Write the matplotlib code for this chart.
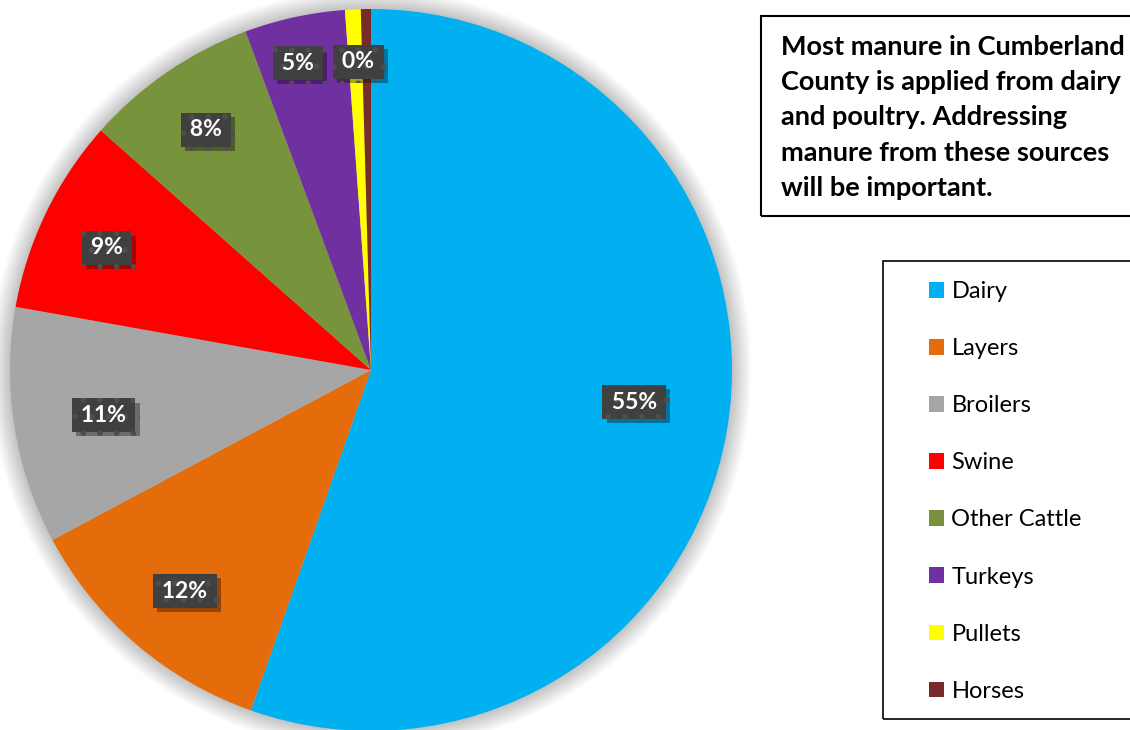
import matplotlib
matplotlib.use("Agg")
import matplotlib.pyplot as plt
import matplotlib.patches as mpatches
import matplotlib.patheffects as pe
import numpy as np

categories = ["Dairy", "Layers", "Broilers", "Swine", "Other Cattle", "Turkeys", "Pullets", "Horses"]
values = [55.4, 11.8, 10.6, 8.75, 7.8, 4.5, 0.7, 0.45]
labels = ["55%", "12%", "11%", "9%", "8%", "5%", "0%", None]
colors = ["#00B0F0", "#E46C0A", "#A6A6A6", "#FF0000", "#77933C", "#7030A0", "#FFFF00", "#772C2A"]
note = ("Most manure in Cumberland\nCounty is applied from dairy\nand poultry. Addressing\n"
        "manure from these sources\nwill be important.")

# layout params (label radial distances as fraction of radius, pixel nudges)
label_dist = [0.74, 0.80, 0.75, 0.81, 0.81, 0.875, 0.86]
label_nudge = [(0, 13), (2, -2), (0, -3), (-1, -5), (0, -1), (-6, -2), (3, -2)]

W, H = 1130, 730
fig = plt.figure(figsize=(W / 100, H / 100), dpi=100)
ax = fig.add_axes([0, 0, 1, 1])
R = 361.0
cx, cy = 371.0, 370.0
xlim = (-cx / R, (W - cx) / R)
ylim = ((cy - H) / R, cy / R)
ax.axis("off")

# soft shadow glow
n = 30
for i in range(n):
    r = 1.0 + 0.055 * (n - i) / n
    ax.add_patch(mpatches.Circle((0, 0), r, color="black", alpha=0.008, lw=0, zorder=0))

wedges, _ = ax.pie(values, colors=colors, startangle=90, counterclock=False,
                   radius=1.0, center=(0, 0), frame=False,
                   wedgeprops=dict(linewidth=0, zorder=2))
ax.set_xlim(*xlim)
ax.set_ylim(*ylim)
ax.set_aspect("auto")

plt.rcParams["hatch.linewidth"] = 1.6
font = "Lato"
total = sum(values)
start = 90.0
for i, v in enumerate(values):
    ang = v / total * 360
    mid = np.deg2rad(start - ang / 2)
    start -= ang
    if labels[i] is None:
        continue
    d = label_dist[i]
    x = d * np.cos(mid) + label_nudge[i][0] / R
    y = d * np.sin(mid) + label_nudge[i][1] / R
    t = ax.text(x, y, "\u2009" + labels[i] + "\u2009", ha="center", va="center",
                fontsize=16.5, fontweight="bold", family=font, color="white",
                bbox=dict(boxstyle="square,pad=0.28", facecolor="#404040",
                          edgecolor="#4e4e4e", hatch=".", lw=0),
                zorder=5)
    t.get_bbox_patch().set_path_effects(
        [pe.SimplePatchShadow(offset=(3, -3), shadow_rgbFace="black", alpha=0.35), pe.Normal()])

# note box
fig.patches.append(mpatches.Rectangle((761 / W, 1 - 216 / H), 400 / W, 200 / H,
                                      transform=fig.transFigure, fill=False,
                                      edgecolor="black", lw=1.5))
fig.text(781 / W, 1 - 35 / H, note, ha="left", va="top", fontsize=19.5,
         fontweight="bold", family=font, linespacing=1.56)

# legend box
fig.patches.append(mpatches.Rectangle((883 / W, 1 - 719 / H), 300 / W, 458 / H,
                                      transform=fig.transFigure, fill=False,
                                      edgecolor="black", lw=1.2))
handles = [mpatches.Patch(facecolor=c, edgecolor="none") for c in colors]
leg = fig.legend(handles, categories, loc="upper left",
                 bbox_to_anchor=(929 / W, 1 - 281 / H), frameon=False,
                 prop=dict(family=font, size=17), handlelength=0.65, handleheight=0.65,
                 handletextpad=0.3, labelspacing=1.53, borderaxespad=0, borderpad=0)

fig.savefig("out.png", dpi=100)
